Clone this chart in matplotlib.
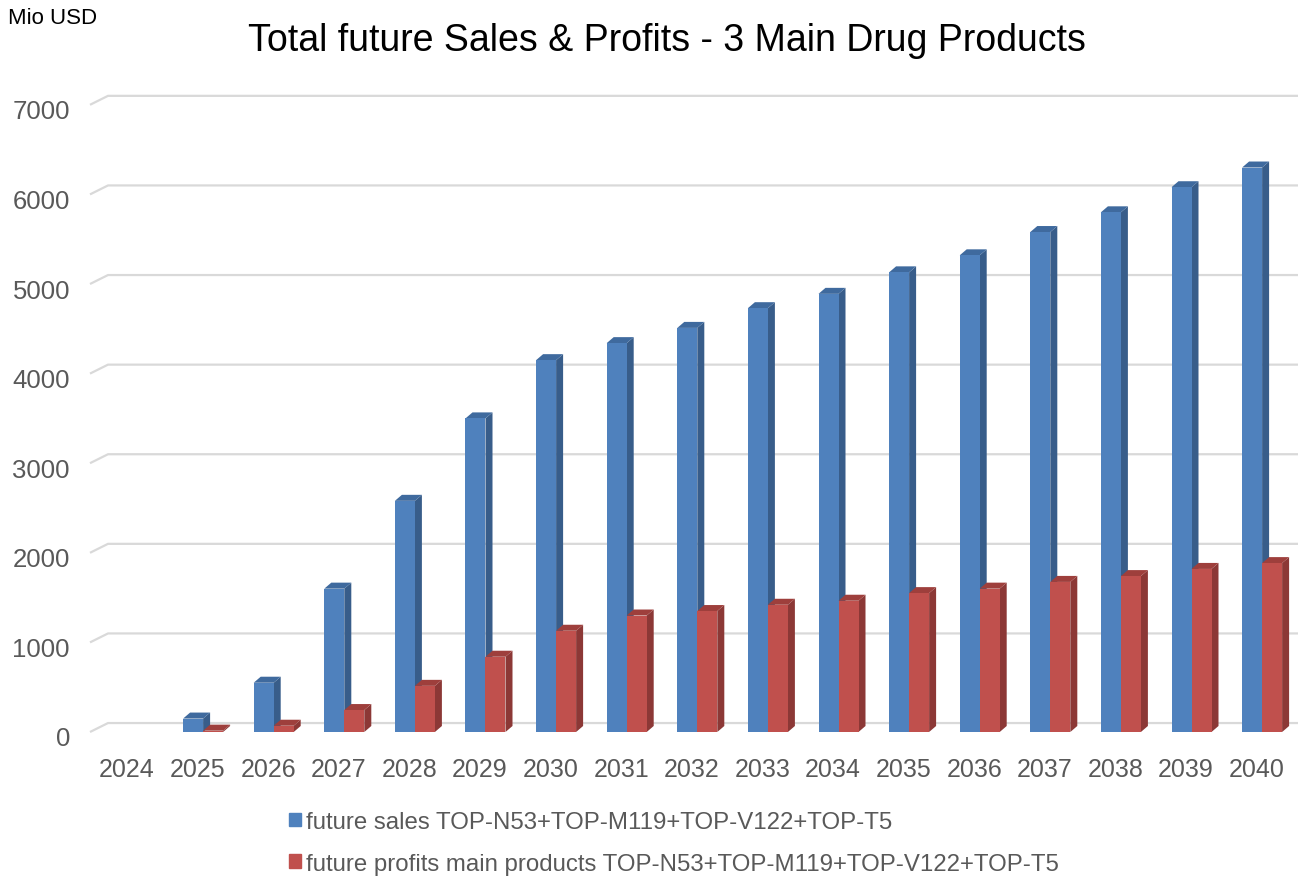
import matplotlib
matplotlib.use('Agg')
import matplotlib.pyplot as plt
from matplotlib.patches import Polygon, Patch
from matplotlib.transforms import ScaledTranslation
import numpy as np

plt.rcParams['font.family'] = ['Liberation Sans', 'DejaVu Sans']

years = ['2024', '2025', '2026', '2027', '2028', '2029', '2030', '2031', '2032',
         '2033', '2034', '2035', '2036', '2037', '2038', '2039', '2040']
sales = [0, 150, 550, 1600, 2580, 3500, 4150, 4340, 4510, 4730, 4890, 5130,
         5320, 5580, 5800, 6080, 6300]
profits = [0, 15, 70, 245, 515, 840, 1130, 1300, 1350, 1420, 1465, 1550,
           1600, 1675, 1740, 1820, 1885]
yticks = [0, 1000, 2000, 3000, 4000, 5000, 6000, 7000]
labels = ['future sales TOP-N53+TOP-M119+TOP-V122+TOP-T5',
          'future profits main products TOP-N53+TOP-M119+TOP-V122+TOP-T5']

W, H = 1301, 879
fig = plt.figure(figsize=(W / 100, H / 100), dpi=100)

# pixel geometry of the plot area
px_cat = 70.6      # px per category
x_first = 127      # px of first category
px_val = 0.0896    # px per value unit
y_zero = 733       # px of value 0 (front)
axl, axr, axt, axb = 88, 1300, 90, 752
ax = fig.add_axes([axl / W, 1 - axb / H, (axr - axl) / W, (axb - axt) / H])
ax.set_xlim((axl - x_first) / px_cat, (axr - x_first) / px_cat)
ax.set_ylim((y_zero - axb) / px_val, (y_zero - axt) / px_val)
for s in ax.spines.values():
    s.set_visible(False)

grey = '#595959'
ax.set_yticks(yticks)
ax.set_yticklabels([str(t) for t in yticks], fontsize=18.5, color=grey)
ax.set_xticks(np.arange(len(years)))
ax.set_xticklabels(years, fontsize=18, color=grey)
ax.tick_params(axis='y', length=0, pad=13)
ax.tick_params(axis='x', length=0, pad=4)
shift_down = ScaledTranslation(0, -4 / 100, fig.dpi_scale_trans)
for lab in ax.get_yticklabels():
    lab.set_transform(lab.get_transform() + shift_down)

# back wall gridlines with perspective
off = 100
xl, xb, xr = (90 - x_first) / px_cat, (108 - x_first) / px_cat, (1298 - x_first) / px_cat
for t in yticks:
    ax.plot([xl, xb, xr], [t, t + off, t + off], color='#D9D9D9', lw=1.6,
            zorder=1, solid_capstyle='butt')

w = 20 / px_cat
dx = 7 / px_cat
dy = 6 / px_val
series = [(sales, -14.5 / px_cat, '#4F81BD', '#385D8A', '#3F6A9E'),
          (profits, 5.5 / px_cat, '#C0504D', '#8C3836', '#9E3F3C')]
z = 2
for vals, shift, cf, cs, ct in series:
    for i, v in enumerate(vals):
        if v <= 0:
            continue
        x0 = i + shift
        side = [(x0 + w, 0), (x0 + w + dx, dy), (x0 + w + dx, v + dy), (x0 + w, v)]
        top = [(x0, v), (x0 + dx, v + dy), (x0 + w + dx, v + dy), (x0 + w, v)]
        ax.add_patch(Polygon(side, closed=True, fc=cs, ec='none', zorder=z))
        ax.add_patch(Polygon(top, closed=True, fc=ct, ec='none', zorder=z))
        ax.bar(x0, v, width=w, align='edge', color=cf, zorder=z + 0.5)
    z += 1

fig.text(248 / W, 1 - 41 / H, 'Total future Sales & Profits - 3 Main Drug Products',
         fontsize=27, color='black', va='center', ha='left')
fig.text(8 / W, 1 - 18 / H, 'Mio USD', fontsize=16, color='black', va='center', ha='left')

handles = [Patch(color='#4F81BD'), Patch(color='#C0504D')]
fig.legend(handles, labels, loc='upper left', bbox_to_anchor=(289 / W, 1 - 812 / H),
           frameon=False, fontsize=17.3, labelcolor=grey, handlelength=0.5,
           handleheight=0.5, handletextpad=0.2, labelspacing=0.82, borderpad=0,
           borderaxespad=0)

fig.savefig('out.png', dpi=100)
